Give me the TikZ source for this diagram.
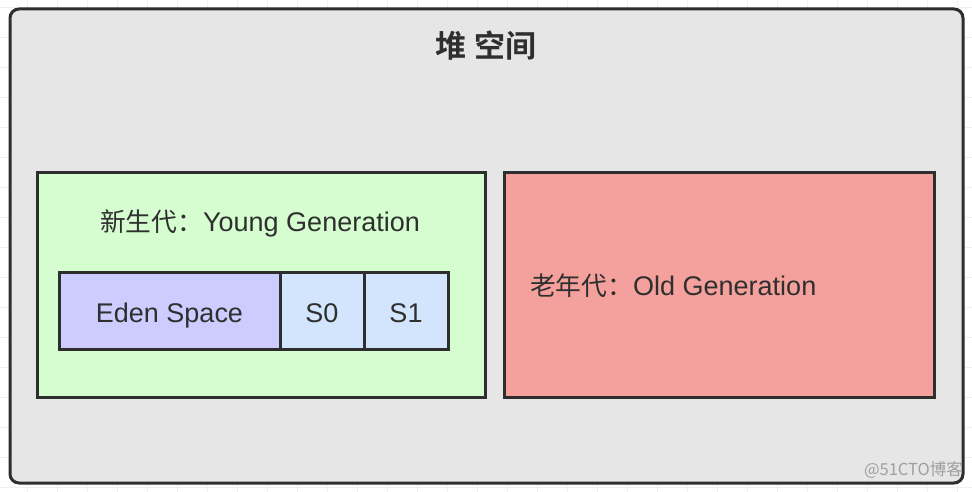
\documentclass[tikz,border=0pt]{standalone}
\usepackage{fontspec}
\setmainfont{Liberation Sans}
\newfontfamily\cjk{Noto Sans CJK SC}[BoldFont={Noto Sans CJK SC Bold}]
\definecolor{txt}{HTML}{2F2F2F}
\definecolor{edge}{HTML}{2E2E2E}
\definecolor{heapfill}{HTML}{E6E6E6}
\definecolor{youngfill}{HTML}{D5FDD0}
\definecolor{oldfill}{HTML}{F4A09C}
\definecolor{edenfill}{HTML}{CCCCFF}
\definecolor{survfill}{HTML}{D2E5FC}
\definecolor{gridc}{HTML}{F0F0F0}
\newcommand{\cjkpart}[1]{{\fontsize{25.75}{30}\selectfont\cjk #1}}
\tikzset{
  box/.style={draw=edge, line width=3pt, rectangle, inner sep=0pt, outer sep=0pt},
  lbl/.style={text=txt, inner sep=0pt, font=\fontsize{27}{32}\selectfont},
  cellbox/.style={box, lbl, draw=edge, minimum height=77pt, text height=23pt, text depth=0pt},
}
\begin{document}
\begin{tikzpicture}[x=1pt,y=-1pt]
\useasboundingbox (0,0) rectangle (972,492);
\fill[white] (0,0) rectangle (972,492);
% faint grid
\foreach \gx in {27,57,...,957} \draw[gridc, line width=0.8pt] (\gx,0) -- (\gx,492);
\foreach \gy in {7,37,...,487} \draw[gridc, line width=0.8pt] (0,\gy) -- (972,\gy);
% heap
\node[box, fill=heapfill, rounded corners=9pt, minimum width=953pt, minimum height=474pt] (heap) at (486.5,246) {};
\node[lbl, font=\fontsize{31}{36}\selectfont\bfseries\cjk] (title) at (486,46) {堆 空间};
% young generation
\node[box, fill=youngfill, minimum width=448pt, minimum height=224pt] (young) at (261,285) {};
\node[lbl, anchor=base] (younglbl) at (260,231) {\cjkpart{新生代：}Young Generation};
% old generation
\node[box, fill=oldfill, minimum width=430pt, minimum height=224pt] (old) at (719,285) {};
\node[lbl, anchor=base west] (oldlbl) at (530,295) {\cjkpart{老年代：}Old Generation};
% eden and survivors
\node[cellbox, fill=edenfill, minimum width=221pt] (eden) at (169.5,310.5) {Eden Space};
\node[cellbox, fill=survfill, minimum width=84pt, anchor=west] (s0) at (eden.east) {S0};
\node[cellbox, fill=survfill, minimum width=84pt, anchor=west] (s1) at (s0.east) {S1};
% watermark
\node[text=gray!75, inner sep=0pt, anchor=east, font=\fontsize{16.5}{18}\selectfont\cjk] (wm) at (963,470) {@51CTO博客};
\end{tikzpicture}
\end{document}
